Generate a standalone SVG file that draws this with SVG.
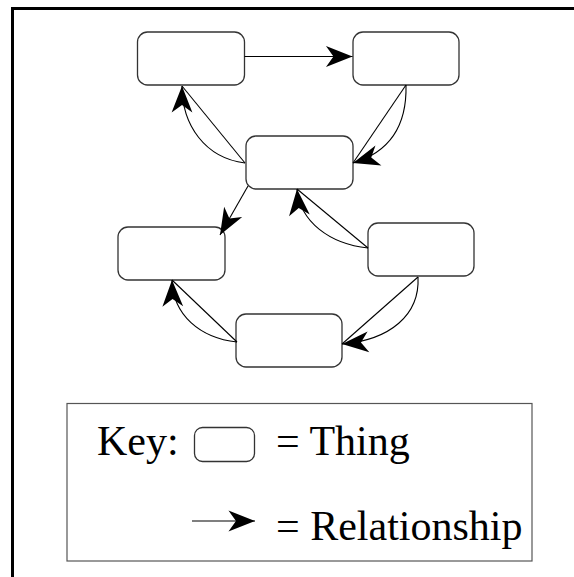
<svg xmlns="http://www.w3.org/2000/svg" width="574" height="577" viewBox="0 0 574 577">
  <style>
    .thing { fill: #fff; stroke: #333; stroke-width: 1.3; }
    .rel { fill: none; stroke: #000; stroke-width: 1.1; }
    .label { font-family: "Liberation Serif", "Times New Roman", serif; font-size: 42px; fill: #000; }
  </style>
  <defs>
    <marker id="head" markerUnits="userSpaceOnUse" markerWidth="30" markerHeight="24" viewBox="-24 -10 26 20" refX="0" refY="0" orient="auto" overflow="visible">
      <path d="M0,0 L-23,-9 L-16.5,0 L-23,9 Z" fill="#000"/>
    </marker>
  </defs>

  <rect width="574" height="577" fill="#fff"/>
  <!-- outer frame -->
  <rect x="12.5" y="8.5" width="600" height="600" fill="none" stroke="#000" stroke-width="3"/>

  <g id="thing-a"><rect class="thing" x="137.5" y="32" width="107" height="53" rx="10"/></g>
  <g id="thing-b"><rect class="thing" x="353" y="32" width="106" height="53" rx="10"/></g>
  <g id="thing-c"><rect class="thing" x="246" y="136" width="107" height="53" rx="10"/></g>
  <g id="thing-d"><rect class="thing" x="118" y="227" width="107" height="53" rx="10"/></g>
  <g id="thing-e"><rect class="thing" x="368" y="223" width="106" height="53" rx="10"/></g>
  <g id="thing-f"><rect class="thing" x="236" y="314" width="106" height="53" rx="10"/></g>

  <g id="connectors">
    <!-- A to B -->
    <path class="rel" d="M244.5,56.5 L352.5,56.5" marker-end="url(#head)"/>
    <!-- B to C -->
    <path class="rel" d="M406,85 L353,163"/>
    <path class="rel" d="M406,85 C407,125 390,152 353,163" marker-end="url(#head)"/>
    <!-- C to A -->
    <path class="rel" d="M245,163 L182,86"/>
    <path class="rel" d="M245,163 C205,158 182,125 182,86" marker-end="url(#head)"/>
    <!-- C to D -->
    <path class="rel" d="M248,186 L220,235" marker-end="url(#head)"/>
    <!-- E to C -->
    <path class="rel" d="M368,248 L297,189"/>
    <path class="rel" d="M368,248 C330,244 300,222 297,189" marker-end="url(#head)"/>
    <!-- E to F -->
    <path class="rel" d="M418,277 L342,344"/>
    <path class="rel" d="M418,277 C420,315 390,340 342,344" marker-end="url(#head)"/>
    <!-- F to D -->
    <path class="rel" d="M237,342 L172,280"/>
    <path class="rel" d="M237,342 C200,338 173,315 172,280" marker-end="url(#head)"/>
  </g>

  <g id="key">
    <rect x="67" y="403.5" width="465" height="157.5" fill="#fff" stroke="#555" stroke-width="1.2"/>
    <text class="label" x="97" y="455">Key:</text>
    <rect class="thing" x="194.5" y="427.5" width="60" height="34" rx="8"/>
    <text class="label" x="276" y="455">= Thing</text>
    <path class="rel" d="M192,521 L255,521" marker-end="url(#head)"/>
    <text class="label" x="276" y="540">= Relationship</text>
  </g>
</svg>
